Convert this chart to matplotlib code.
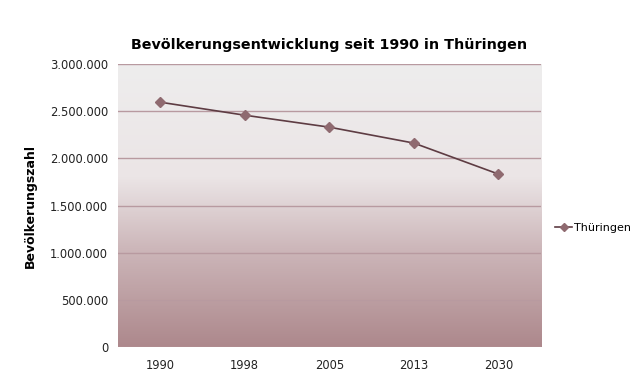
import numpy as np
import matplotlib.pyplot as plt
from matplotlib.colors import LinearSegmentedColormap
from matplotlib.ticker import FuncFormatter
from matplotlib.lines import Line2D

years = ['1990', '1998', '2005', '2013', '2030']
einwohner = [2597000, 2459000, 2332000, 2163000, 1834000]
yticks = [0, 500000, 1000000, 1500000, 2000000, 2500000, 3000000]

fig = plt.figure(figsize=(6.4, 3.89), dpi=100)
ax = fig.add_axes([0.184, 0.108, 0.661, 0.727])

# background gradient (bottom mauve -> top light gray)
cmap = LinearSegmentedColormap.from_list('bg', [(0.0, '#ad888c'), (0.35, '#cdb7ba'),
                                                (0.6, '#ebe5e6'), (1.0, '#eeeded')])
grad = np.linspace(0, 1, 256).reshape(-1, 1)
ax.imshow(grad, aspect='auto', cmap=cmap, origin='lower',
          extent=[-0.5, 4.5, 0, 3000000], zorder=0)

x = np.arange(len(years))
ax.plot(x, einwohner, color='#5e3c43', lw=1.2, marker='D', ms=5,
        mfc='#8f6a70', mec='#8f6a70', zorder=3, label='Thüringen')

ax.set_xlim(-0.5, 4.5)
ax.set_ylim(0, 3000000)
ax.set_xticks(x)
ax.set_xticklabels(years)
ax.set_yticks(yticks)
ax.yaxis.set_major_formatter(FuncFormatter(lambda v, p: f'{int(v):,}'.replace(',', '.')))
ax.grid(axis='y', color='#b89aa0', lw=1.0, zorder=1, snap=True)
ax.set_axisbelow(False)
for s in ax.spines.values():
    s.set_visible(False)
ax.tick_params(length=0, labelsize=8.3, colors='#222222', pad=7)
ax.tick_params(axis='x', pad=9)

ax.set_title('Bevölkerungsentwicklung seit 1990 in Thüringen', fontsize=10.3,
             fontweight='bold', pad=11)
ax.set_ylabel('Bevölkerungszahl', fontsize=9, fontweight='bold', labelpad=9)

handle = Line2D([], [], color='#5e3c43', lw=1.2, marker='D', ms=4,
                mfc='#8f6a70', mec='#8f6a70')
fig.legend([handle], ['Thüringen'], loc='center left', bbox_to_anchor=(0.852, 0.415),
           frameon=False, fontsize=8, handlelength=1.5, handletextpad=0.15)

plt.savefig('out.png', dpi=100)
